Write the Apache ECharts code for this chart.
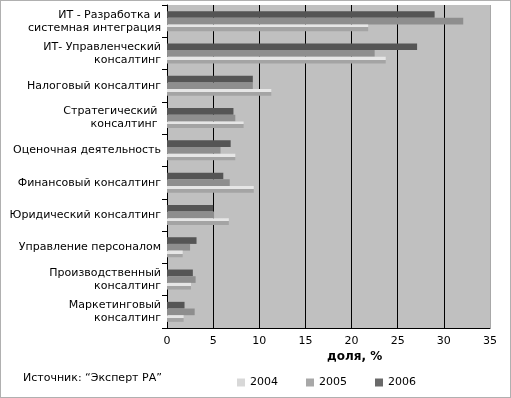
<!DOCTYPE html>
<html><head><meta charset="utf-8">
<script src="https://cdn.jsdelivr.net/npm/echarts@6/dist/echarts.min.js"></script>
<style>html,body{margin:0;padding:0;background:#fff}#c{width:509px;height:396px;border:1px solid #b0b0b0}</style>
</head><body><div id="c"></div>
<script>
const categories = ['ИТ - Разработка и\nсистемная интеграция','ИТ- Управленческий\nконсалтинг','Налоговый консалтинг','Стратегический \nконсалтинг ','Оценочная деятельность','Финансовый консалтинг','Юридический консалтинг','Управление персоналом','Производственный\nконсалтинг','Маркетинговый\nконсалтинг'];
const years = ['2004','2005','2006'];
const v2004 = [21.8, 23.7, 11.3, 8.3, 7.4, 9.4, 6.7, 1.7, 2.6, 1.8];
const v2005 = [32.1, 22.5, 9.3, 7.4, 5.8, 6.8, 5.1, 2.5, 3.1, 3.0];
const v2006 = [29.0, 27.1, 9.3, 7.2, 6.9, 6.1, 5.0, 3.2, 2.8, 1.9];
const xTicks = [0,5,10,15,20,25,30,35];

const font = 'DejaVu Sans';
const legendColors = ['#d8d8d8','#a8a8a8','#6a6a6a'];
const chart = echarts.init(document.getElementById('c'));
const grad = (a,b)=>({type:'linear',x:0,y:0,x2:0,y2:1,colorStops:[{offset:0,color:a},{offset:0.45,color:a},{offset:0.45,color:b},{offset:1,color:b}]});
chart.setOption({
  animation:false,
  textStyle:{fontFamily:font},
  grid:{left:166,right:20,top:4,bottom:69,show:true,backgroundColor:'#c0c0c0',borderWidth:0},
  legend:{data:years.map((y,i)=>({name:y,itemStyle:{color:legendColors[i]}})),left:231,top:371,itemWidth:8,itemHeight:8,itemGap:28,icon:'rect',
    textStyle:{fontFamily:font,fontSize:11,color:'#000'}},
  xAxis:{type:'value',min:xTicks[0],max:xTicks[xTicks.length-1],interval:5,
    axisLine:{show:true,lineStyle:{color:'#000',width:1}},axisTick:{show:false},
    axisLabel:{color:'#000',fontSize:11,fontFamily:font,margin:8},
    splitLine:{show:true,lineStyle:{color:['rgba(0,0,0,0)','#000','#000','#000','#000','#000','#000','#a8a8a8'],width:1}}},
  yAxis:{type:'category',data:categories,inverse:true,
    axisLine:{show:true,lineStyle:{color:'#000'}},
    axisTick:{show:true,length:5,lineStyle:{color:'#000'}},
    axisLabel:{color:'#000',fontSize:11,fontFamily:font,lineHeight:13,margin:6}},
  graphic:[
    {type:'text',left:22,top:372,style:{text:'Источник: “Эксперт РА”',font:'11px "DejaVu Sans"',fill:'#000'}},
    {type:'text',left:326,top:350,style:{text:'доля, %',font:'bold 12px "DejaVu Sans"',fill:'#000'}}
  ],
  series:[
    {name:'2006',type:'bar',data:v2006,barGap:'0%',barCategoryGap:'38%',itemStyle:{color:'#555555'}},
    {name:'2005',type:'bar',data:v2005,barGap:'0%',barCategoryGap:'38%',itemStyle:{color:'#8e8e8e'}},
    {name:'2004',type:'bar',data:v2004,barGap:'0%',barCategoryGap:'38%',itemStyle:{color:grad('#e6e6e6','#a4a4a4')}}
  ]
});
</script></body></html>
